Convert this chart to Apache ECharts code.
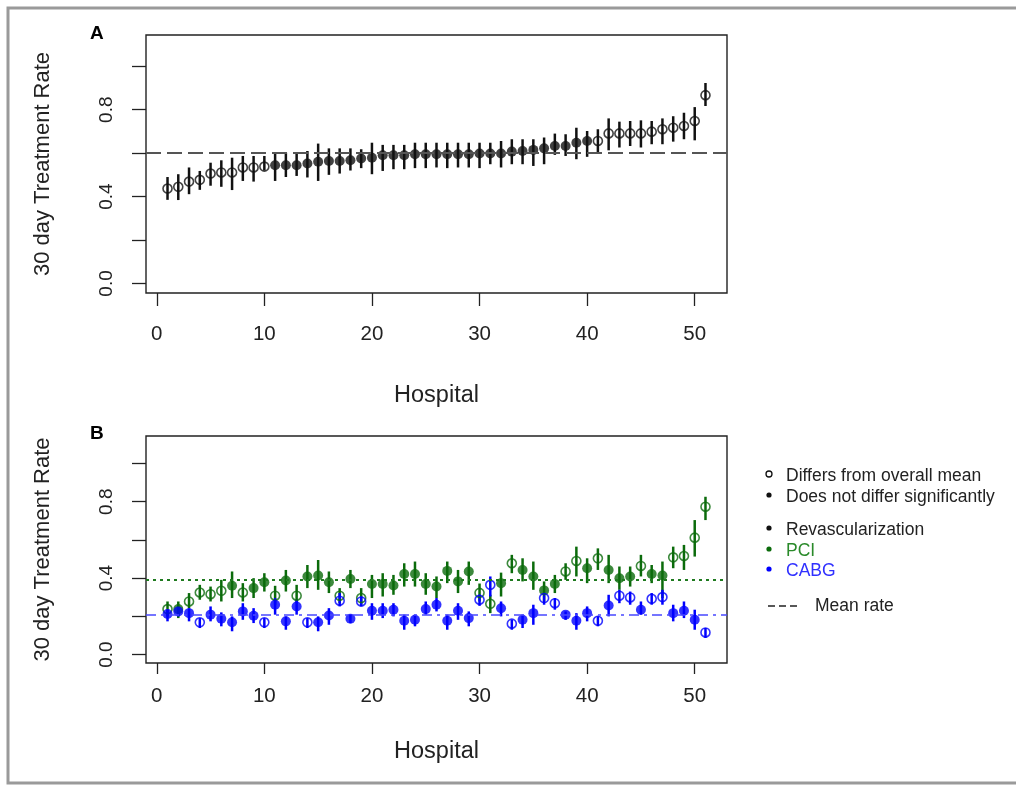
<!DOCTYPE html>
<html>
<head>
<meta charset="utf-8">
<script src="https://cdn.jsdelivr.net/npm/echarts@6/dist/echarts.min.js"></script>
<style>
html,body{margin:0;padding:0;background:#fff;}
#chart{width:1016px;height:787px;}
</style>
</head>
<body>
<div id="chart"></div>
<script>
// ---------- data ----------
const hospital = [1,2,3,4,5,6,7,8,9,10,11,12,13,14,15,16,17,18,19,20,21,22,23,24,25,26,27,28,29,30,31,32,33,34,35,36,37,38,39,40,41,42,43,44,45,46,47,48,49,50,51];

// Panel A: revascularization
const revRate = [0.437,0.445,0.469,0.477,0.506,0.511,0.511,0.534,0.534,0.538,0.544,0.544,0.544,0.552,0.560,0.564,0.564,0.567,0.575,0.579,0.590,0.590,0.590,0.595,0.595,0.595,0.595,0.595,0.595,0.598,0.598,0.598,0.607,0.610,0.615,0.622,0.633,0.633,0.648,0.656,0.656,0.691,0.691,0.691,0.691,0.699,0.710,0.717,0.725,0.748,0.867];
const revHi   = [0.490,0.503,0.534,0.518,0.556,0.567,0.579,0.587,0.587,0.587,0.602,0.602,0.602,0.610,0.644,0.622,0.622,0.622,0.618,0.648,0.638,0.638,0.638,0.648,0.648,0.648,0.648,0.648,0.648,0.648,0.648,0.656,0.664,0.664,0.664,0.672,0.690,0.687,0.717,0.702,0.710,0.760,0.745,0.748,0.751,0.748,0.760,0.770,0.786,0.812,0.923];
const revLo   = [0.385,0.384,0.411,0.431,0.450,0.445,0.430,0.472,0.469,0.520,0.472,0.490,0.495,0.488,0.472,0.500,0.506,0.520,0.531,0.503,0.518,0.526,0.526,0.531,0.531,0.534,0.531,0.534,0.534,0.531,0.549,0.534,0.549,0.549,0.541,0.549,0.592,0.587,0.572,0.583,0.602,0.613,0.626,0.633,0.626,0.641,0.641,0.653,0.664,0.659,0.817];
const revDiffers = [1,1,1,1,1,1,1,1,1,1,0,0,0,0,0,0,0,0,0,0,0,0,0,0,0,0,0,0,0,0,0,0,0,0,0,0,0,0,0,0,1,1,1,1,1,1,1,1,1,1,1];
const revMean = 0.6;

// Panel B: PCI
const pciRate = [0.238,0.238,0.278,0.325,0.316,0.334,0.360,0.325,0.348,0.379,0.308,0.388,0.308,0.409,0.414,0.379,0.308,0.396,0.296,0.369,0.369,0.362,0.422,0.422,0.369,0.356,0.438,0.383,0.435,0.323,0.266,0.374,0.478,0.443,0.409,0.336,0.370,0.435,0.490,0.452,0.504,0.443,0.400,0.409,0.464,0.422,0.414,0.509,0.516,0.612,0.774];
const pciHi   = [0.278,0.278,0.322,0.365,0.356,0.391,0.435,0.374,0.400,0.426,0.360,0.443,0.365,0.469,0.495,0.435,0.348,0.443,0.348,0.417,0.426,0.417,0.478,0.487,0.426,0.409,0.487,0.443,0.487,0.372,0.313,0.429,0.522,0.504,0.487,0.383,0.417,0.478,0.565,0.504,0.556,0.522,0.461,0.461,0.522,0.469,0.487,0.565,0.574,0.704,0.826];
const pciLo   = [0.200,0.191,0.243,0.287,0.278,0.278,0.296,0.278,0.296,0.330,0.261,0.330,0.269,0.348,0.339,0.322,0.269,0.348,0.261,0.296,0.304,0.313,0.356,0.356,0.313,0.296,0.374,0.322,0.365,0.278,0.217,0.304,0.426,0.383,0.339,0.278,0.322,0.391,0.409,0.374,0.443,0.374,0.339,0.356,0.409,0.374,0.296,0.452,0.443,0.513,0.704];
const pciDiffers = [1,0,1,1,1,1,0,1,0,0,1,0,1,0,0,0,1,0,1,0,0,0,0,0,0,0,0,0,0,1,1,0,1,0,0,0,0,1,1,0,1,0,0,0,1,0,0,1,1,1,1];
const pciMean = 0.39;

// Panel B: CABG
const cabgRate = [0.212,0.226,0.217,0.169,0.209,0.188,0.169,0.226,0.203,0.169,0.261,0.174,0.252,0.169,0.169,0.205,0.282,0.188,0.278,0.229,0.229,0.235,0.177,0.182,0.238,0.261,0.177,0.229,0.191,0.287,0.365,0.243,0.162,0.182,0.217,0.296,0.269,0.209,0.177,0.217,0.177,0.257,0.308,0.299,0.235,0.292,0.301,0.217,0.229,0.182,0.116];
const cabgHi   = [0.235,0.252,0.243,0.191,0.252,0.221,0.200,0.269,0.243,0.191,0.296,0.200,0.287,0.191,0.200,0.243,0.322,0.209,0.304,0.269,0.269,0.269,0.209,0.209,0.278,0.296,0.209,0.269,0.226,0.313,0.409,0.278,0.182,0.209,0.261,0.322,0.296,0.226,0.217,0.252,0.200,0.313,0.339,0.330,0.278,0.322,0.339,0.261,0.278,0.235,0.139];
const cabgLo   = [0.174,0.200,0.174,0.139,0.174,0.148,0.122,0.182,0.165,0.139,0.209,0.130,0.209,0.139,0.122,0.156,0.252,0.165,0.252,0.182,0.191,0.200,0.130,0.148,0.209,0.226,0.130,0.182,0.148,0.255,0.304,0.200,0.130,0.139,0.156,0.261,0.235,0.182,0.130,0.174,0.148,0.200,0.269,0.261,0.209,0.261,0.261,0.174,0.191,0.130,0.087];
const cabgDiffers = [0,0,0,1,0,0,0,0,0,1,0,0,0,1,0,0,1,0,1,0,0,0,0,0,0,0,0,0,0,1,1,0,1,0,0,1,1,0,0,0,1,0,1,1,0,1,1,0,0,0,1];
const cabgMean = 0.215;

const xTicks = [0,10,20,30,40,50];
const yTicks = [0,0.2,0.4,0.6,0.8,1.0];
const yLabels = [0,0.4,0.8];

const panelLabels = ['A','B'];
const legendTexts = ['Differs from overall mean','Does not differ significantly','Revascularization','PCI','CABG','Mean rate'];
const yTitle = '30 day Treatment Rate';
const xTitle = 'Hospital';

// ---------- styles ----------
const FONT = '"Liberation Sans", Arial, sans-serif';
const BLACK = '#111';
const GREEN = '#0b6b0b';
const BLUE = '#0000ff';

function errSeries(rate, lo, hi, color, xi) {
  return {
    type: 'custom', xAxisIndex: xi, yAxisIndex: xi, silent: true,
    data: hospital.map((h, i) => [h, lo[i], hi[i]]),
    encode: { x: 0, y: [1, 2] },
    renderItem: function (params, api) {
      const p1 = api.coord([api.value(0), api.value(1)]);
      const p2 = api.coord([api.value(0), api.value(2)]);
      return { type: 'line', shape: { x1: p1[0], y1: p1[1], x2: p2[0], y2: p2[1] },
               style: { stroke: color, lineWidth: 2.5 } };
    }
  };
}
function ptSeries(rate, differs, flag, color, xi, extra) {
  const s = {
    type: 'scatter', xAxisIndex: xi, yAxisIndex: xi, silent: true,
    symbol: 'circle', symbolSize: flag ? 9 : 10,
    data: hospital.map((h, i) => [h, rate[i]]).filter((d, i) => differs[i] === flag),
    itemStyle: flag ? { color: 'rgba(255,255,255,0)', borderColor: color, borderWidth: 1.6 }
                    : { color: color }
  };
  return Object.assign(s, extra || {});
}
function meanLine(val, color, type, width) {
  return { silent: true, symbol: ['none','none'], label: { show: false },
           lineStyle: { color: color, type: type, width: width },
           data: [{ yAxis: val }] };
}

function xAxis(gi, margin, tick, gap) {
  return {
    type: 'value', gridIndex: gi, min: -1, max: 53,
    name: xTitle, nameLocation: 'middle', nameGap: gap,
    nameTextStyle: { fontFamily: FONT, fontSize: 23.5, color: '#222' },
    axisLine: { show: false, onZero: false }, splitLine: { show: false },
    axisTick: { show: true, length: tick, customValues: xTicks, lineStyle: { color: '#222', width: 1.3 } },
    axisLabel: { customValues: xTicks, margin: margin, fontFamily: FONT, fontSize: 20.5, color: '#222' }
  };
}
function yAxis(gi) {
  return {
    type: 'value', gridIndex: gi, min: -0.044, max: 1.144,
    name: yTitle, nameLocation: 'middle', nameGap: 92, nameRotate: 90,
    nameTextStyle: { fontFamily: FONT, fontSize: 22, color: '#222' },
    axisLine: { show: false, onZero: false }, splitLine: { show: false },
    axisTick: { show: true, length: 14, customValues: yTicks, lineStyle: { color: '#222', width: 1.3 } },
    axisLabel: { customValues: yLabels, rotate: 90, margin: 30, fontFamily: FONT, fontSize: 19, color: '#222',
                 formatter: v => Number(v).toFixed(1) }
  };
}

const chart = echarts.init(document.getElementById('chart'), null, { renderer: 'canvas' });

const legX = 769, legTX = 786;
const legY = [476, 497, 530, 551, 571];
const legColors = [BLACK, BLACK, BLACK, GREEN, BLUE];
const legTextColors = ['#222','#222','#222','#2a8a2a','#3030ff'];
const graphics = [
  { type: 'rect', shape: { x: 8, y: 8, width: 1030, height: 775 }, style: { fill: 'none', stroke: '#9a9a9a', lineWidth: 3 }, silent: true, z: 100 },
  { type: 'text', x: 90, y: 24, style: { text: panelLabels[0], font: 'bold 19px ' + FONT, fill: '#000' } },
  { type: 'text', x: 90, y: 424, style: { text: panelLabels[1], font: 'bold 19px ' + FONT, fill: '#000' } }
];
legY.forEach((y, i) => {
  graphics.push({ type: 'circle', shape: { cx: legX, cy: y - 2, r: i === 0 ? 3 : 2.6 },
    style: i === 0 ? { fill: '#fff', stroke: '#111', lineWidth: 1.3 } : { fill: legColors[i] } });
  graphics.push({ type: 'text', x: legTX, y: y, style: { text: legendTexts[i], font: '17.5px ' + FONT, fill: legTextColors[i], verticalAlign: 'middle' } });
});
graphics.push({ type: 'line', shape: { x1: 768, y1: 606, x2: 800, y2: 606 }, style: { stroke: '#222', lineWidth: 1.5, lineDash: [7, 4] } });
graphics.push({ type: 'text', x: 815, y: 606, style: { text: legendTexts[5], font: '17.5px ' + FONT, fill: '#222', verticalAlign: 'middle' } });

chart.setOption({
  animation: false,
  backgroundColor: '#fff',
  grid: [
    { left: 146, top: 35, width: 581, height: 258, show: true, borderColor: '#222', borderWidth: 1.4, backgroundColor: 'transparent' },
    { left: 146, top: 436, width: 581, height: 227, show: true, borderColor: '#222', borderWidth: 1.4, backgroundColor: 'transparent' }
  ],
  xAxis: [xAxis(0, 31, 13, 91), xAxis(1, 23, 11, 77)],
  yAxis: [yAxis(0), yAxis(1)],
  series: [
    errSeries(revRate, revLo, revHi, BLACK, 0),
    ptSeries(revRate, revDiffers, 1, BLACK, 0, { markLine: meanLine(revMean, '#555', [15, 6], 2) }),
    ptSeries(revRate, revDiffers, 0, BLACK, 0),
    errSeries(pciRate, pciLo, pciHi, GREEN, 1),
    ptSeries(pciRate, pciDiffers, 1, GREEN, 1, { markLine: meanLine(pciMean, '#1f7a1f', [3, 4], 2) }),
    ptSeries(pciRate, pciDiffers, 0, GREEN, 1),
    errSeries(cabgRate, cabgLo, cabgHi, BLUE, 1),
    ptSeries(cabgRate, cabgDiffers, 1, BLUE, 1, { markLine: meanLine(cabgMean, '#4848ff', [10, 5, 3, 5], 1.6) }),
    ptSeries(cabgRate, cabgDiffers, 0, BLUE, 1)
  ],
  graphic: graphics
});
</script>
</body>
</html>
